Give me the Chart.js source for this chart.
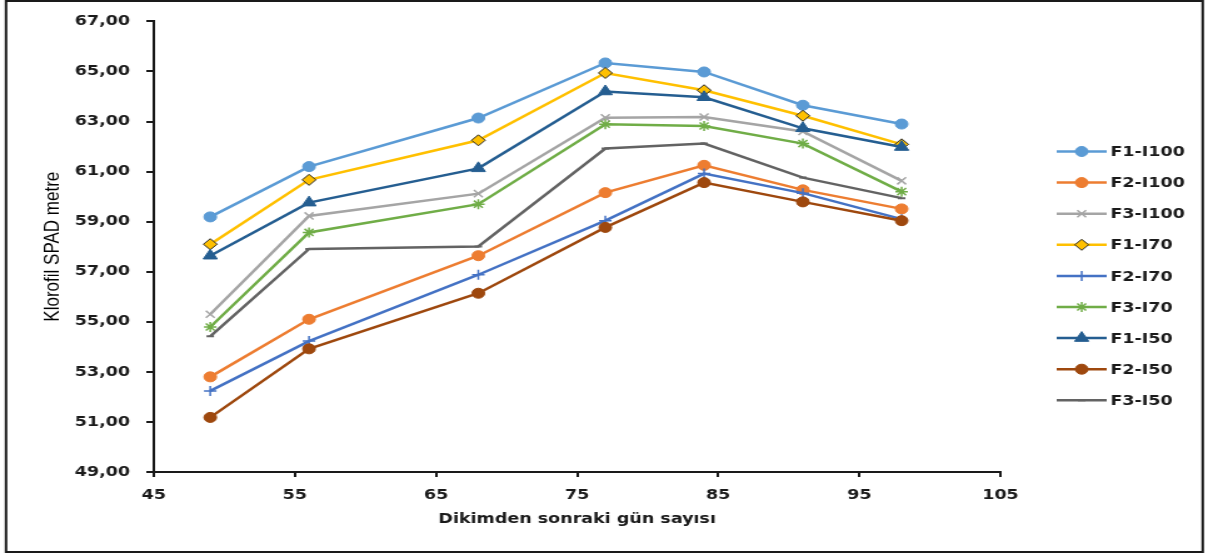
<!DOCTYPE html>
<html>
<head>
<meta charset="utf-8">
<script src="https://cdn.jsdelivr.net/npm/chart.js@4/dist/chart.umd.min.js"></script>
<style>
  html, body { margin: 0; padding: 0; background: #fff; }
  /* the original chart is stretched sideways, so draw narrow and scale */
  #wrap { width: 966px; height: 554px; transform: scaleX(1.2505); transform-origin: 0 0; }
</style>
</head>
<body>
<div id="wrap"><canvas id="spad" width="966" height="554"></canvas></div>
<script>
// ---- data ----
const days = [49, 56, 68, 77, 84, 91, 98];
const f1i100 = [59.19, 61.20, 63.14, 65.34, 64.98, 63.65, 62.90];
const f2i100 = [52.80, 55.10, 57.64, 60.16, 61.25, 60.27, 59.51];
const f3i100 = [55.30, 59.23, 60.12, 63.15, 63.18, 62.60, 60.63];
const f1i70 = [58.10, 60.67, 62.25, 64.94, 64.25, 63.23, 62.09];
const f2i70 = [52.24, 54.23, 56.88, 59.04, 60.92, 60.14, 59.10];
const f3i70 = [54.79, 58.57, 59.70, 62.89, 62.82, 62.12, 60.20];
const f1i50 = [57.64, 59.76, 61.13, 64.20, 63.97, 62.73, 61.98];
const f2i50 = [51.18, 53.92, 56.14, 58.77, 60.56, 59.79, 59.04];
const f3i50 = [54.42, 57.91, 58.01, 61.92, 62.12, 60.76, 59.94];

const seriesNames = ["F1-I100", "F2-I100", "F3-I100", "F1-I70", "F2-I70", "F3-I70", "F1-I50", "F2-I50", "F3-I50"];
const seriesValues = [f1i100, f2i100, f3i100, f1i70, f2i70, f3i70, f1i50, f2i50, f3i50];

const xMin = 45, xMax = 105, xStep = 10;
const yMin = 49, yMax = 67, yStep = 2;
const xTitle = "Dikimden sonraki gün sayısı";
const yTitle = "Klorofil SPAD metre";

// ---- styles (Excel office palette) ----
const styles = [
  { color: "#5B9BD5", point: "circle", r: 5 },
  { color: "#ED7D31", point: "circle", r: 5 },
  { color: "#A5A5A5", point: "crossRot", r: 5, bw: 1.5 },
  { color: "#FFC000", point: "rectRot", r: 5.5, fill: "#FFC000", border: "#262626", bw: 1 },
  { color: "#4472C4", point: "cross", r: 5, bw: 1.5 },
  { color: "#70AD47", point: "star", r: 5, bw: 1.5 },
  { color: "#255E91", point: "triangle", r: 6.5 },
  { color: "#9E480E", point: "circle", r: 5 },
  { color: "#636363", point: "line", r: 3, bw: 2 },
];

const datasets = seriesNames.map((name, i) => {
  const s = styles[i];
  return {
    label: name,
    data: days.map((d, j) => ({ x: d, y: seriesValues[i][j] })),
    borderColor: s.color,
    borderWidth: 2.5,
    pointStyle: s.point,
    pointRadius: s.r,
    pointBackgroundColor: s.fill || s.color,
    pointBorderColor: s.border || s.color,
    pointBorderWidth: s.bw || 1,
    tension: 0,
    order: seriesNames.length - i,
  };
});

const ink = "#1a1a1a";
const tickFont = { family: "'DejaVu Sans', Verdana, sans-serif", size: 14, weight: "bold" };

// outer frame of the picture
const framePlugin = {
  id: "frame",
  beforeDraw(chart) {
    const ctx = chart.ctx;
    ctx.save();
    ctx.fillStyle = "#fff";
    ctx.fillRect(0, 0, chart.width, chart.height);
    ctx.strokeStyle = ink;
    ctx.lineWidth = 2;
    ctx.strokeRect(4.8, 1, 957, 551);
    ctx.restore();
  },
};

// legend with line + marker, like Excel
const legendPlugin = {
  id: "sideLegend",
  afterDraw(chart) {
    const ctx = chart.ctx;
    const x0 = 845, x1 = 885, xm = 865, xt = 888;
    ctx.save();
    chart.data.datasets.forEach((ds, i) => {
      const y = 151.5 + i * 31.1;
      ctx.strokeStyle = ds.borderColor;
      ctx.lineWidth = 2.5;
      ctx.beginPath();
      ctx.moveTo(x0, y);
      ctx.lineTo(x1, y);
      ctx.stroke();
      ctx.fillStyle = ds.pointBackgroundColor;
      ctx.strokeStyle = ds.pointBorderColor;
      ctx.lineWidth = ds.pointBorderWidth;
      if (Chart.helpers && Chart.helpers.drawPoint) {
        Chart.helpers.drawPoint(ctx, { pointStyle: ds.pointStyle, radius: ds.pointRadius, rotation: 0, borderWidth: ds.pointBorderWidth }, xm, y);
      }
      ctx.fillStyle = ink;
      ctx.font = "bold 14px 'DejaVu Sans', Verdana, sans-serif";
      ctx.textBaseline = "middle";
      ctx.textAlign = "left";
      ctx.fillText(ds.label, xt, y + 1);
    });
    ctx.restore();
  },
};

new Chart(document.getElementById("spad"), {
  type: "line",
  data: { datasets },
  plugins: [framePlugin, legendPlugin],
  options: {
    responsive: false,
    animation: false,
    devicePixelRatio: 1,
    layout: { padding: { left: 5, top: 20, right: 166, bottom: 2 } },
    plugins: { legend: { display: false }, tooltip: { enabled: false } },
    scales: {
      x: {
        type: "linear",
        min: xMin,
        max: xMax,
        afterFit: (scale) => { scale.height = 80; },
        ticks: { stepSize: xStep, color: ink, font: tickFont, padding: 10 },
        grid: { drawOnChartArea: false, drawTicks: true, tickLength: 5, color: ink, lineWidth: 2 },
        border: { display: true, color: ink, width: 2 },
        title: {
          display: true,
          text: xTitle,
          color: ink,
          font: tickFont,
          padding: { top: 0, bottom: 24 },
        },
      },
      y: {
        min: yMin,
        max: yMax,
        afterFit: (scale) => { scale.width = 118; },
        ticks: {
          stepSize: yStep,
          color: ink,
          font: tickFont,
          padding: 13,
          callback: (v) => v.toFixed(2).replace(".", ","),
        },
        grid: { drawOnChartArea: false, drawTicks: true, tickLength: 6, color: ink, lineWidth: 2 },
        border: { display: true, color: ink, width: 2 },
        title: {
          display: true,
          text: yTitle,
          color: "#000",
          font: { family: "'Liberation Sans', Arial, sans-serif", size: 17 },
          padding: { top: 27, bottom: 0 },
        },
      },
    },
  },
});
</script>
</body>
</html>
